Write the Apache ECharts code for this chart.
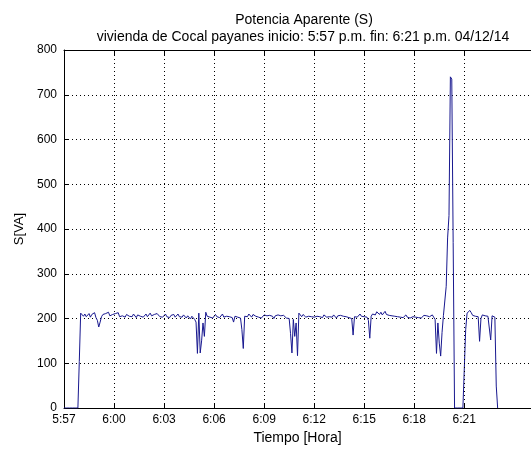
<!DOCTYPE html>
<html>
<head>
<meta charset="utf-8">
<script src="https://cdn.jsdelivr.net/npm/echarts@6/dist/echarts.min.js"></script>
<style>
  html, body { margin: 0; padding: 0; background: #fff; }
  #chart { width: 531px; height: 450px; }
</style>
</head>
<body>
<div id="chart"></div>
<script>
// Apparent power readings, one sample every 5 s starting 17:57:00
const sampleStepSec = 5;
const startClockMin = 17 * 60 + 57;
const apparentPowerVA = [
  0, 0, 0, 0, 0, 0, 0, 0, 0, 0, 0, 104,
  212, 208, 205, 210, 204, 207, 211, 203, 209, 206, 213, 202,
  196, 181, 192, 204, 209, 205, 211, 207, 214, 206, 203, 209,
  205, 211, 207, 213, 204, 208, 206, 210, 203, 209, 212, 205,
  207, 204, 210, 206, 202, 208, 211, 205, 209, 203, 207, 210,
  204, 208, 212, 206, 203, 209, 205, 211, 207, 204, 208, 203,
  206, 210, 204, 208, 202, 207, 205, 209, 203, 206, 210, 204,
  207, 203, 208, 205, 201, 206, 204, 199, 205, 202, 198, 192,
  122, 212, 123, 150, 190, 160, 214, 205, 208, 203, 206, 201,
  205, 209, 204, 207, 202, 206, 210, 203, 207, 205, 209, 204,
  206, 202, 192, 205, 208, 203, 207, 201, 175, 133, 205, 208,
  204, 210, 206, 203, 209, 212, 205, 208, 203, 207, 201, 205,
  208, 204, 206, 202, 207, 203, 205, 200, 206, 203, 208, 204,
  206, 203, 207, 204, 201, 205, 200, 166, 123, 198, 160, 190,
  117, 212, 208, 204, 209, 206, 203, 207, 205, 208, 204, 206,
  203, 207, 205, 209, 204, 206, 202, 208, 205, 203, 207, 204,
  206, 203, 208, 205, 201, 206, 204, 207, 203, 205, 209, 204,
  206, 202, 205, 200, 163, 204, 208, 203, 206, 210, 205, 208,
  204, 207, 203, 196, 156, 205, 210, 213, 208, 215, 211, 209,
  214, 208, 212, 216, 209, 213, 207, 211, 206, 210, 205, 208,
  204, 207, 203, 206, 202, 205, 208, 203, 206, 201, 205, 204,
  207, 203, 206, 202, 205, 201, 204, 207, 203, 206, 209, 204,
  205, 208, 203, 198, 122, 190, 145, 116, 169, 207, 205, 272,
  380, 430, 740, 735, 370, 0, 0, 0, 0, 0, 0, 0,
  0, 175, 212, 209, 218, 213, 207, 211, 205, 209, 204, 149,
  200, 208, 212, 206, 210, 205, 209, 152, 206, 208, 203, 49,
  0
];

// Labelled time ticks, minutes after 17:57
const timeTickMinutes = [0, 3, 6, 9, 12, 15, 18, 21, 24];
const xAxisMaxMin = 28;
const yTicks = [0, 100, 200, 300, 400, 500, 600, 700, 800];

const seriesData = apparentPowerVA.map((v, i) => [i * sampleStepSec / 60, v]);

function clockLabel(m) {
  const total = Math.round(startClockMin + m);
  let h = Math.floor(total / 60) % 12;
  if (h === 0) h = 12;
  const mm = total % 60;
  return h + ':' + (mm < 10 ? '0' + mm : mm);
}

const font = 'Liberation Sans, Arial, sans-serif';
const dotted = { color: '#000', width: 1, type: [1, 3] };

const chart = echarts.init(document.getElementById('chart'), null, { renderer: 'canvas' });
chart.setOption({
  animation: false,
  backgroundColor: '#fff',
  title: [
    {
      text: 'Potencia Aparente (S)',
      left: 299, top: 8, textAlign: 'center',
      textStyle: { fontFamily: font, fontSize: 14, fontWeight: 'normal', color: '#000' }
    },
    {
      text: 'vivienda de Cocal payanes inicio: 5:57 p.m. fin: 6:21 p.m. 04/12/14',
      left: 298, top: 25, textAlign: 'center',
      textStyle: { fontFamily: font, fontSize: 14, fontWeight: 'normal', color: '#000' }
    }
  ],
  grid: { left: 64, top: 50, width: xAxisMaxMin * 16.93, height: 362, containLabel: false },
  xAxis: [
    {
      type: 'value', min: 0, max: xAxisMaxMin, interval: 3, position: 'bottom',
      name: 'Tiempo [Hora]', nameLocation: 'middle', nameGap: 23,
      nameTextStyle: { fontFamily: font, fontSize: 14, color: '#000' },
      axisLine: { show: true, onZero: false, lineStyle: { color: '#000', width: 1 } },
      axisTick: { show: true, inside: true, length: 5, customValues: timeTickMinutes, lineStyle: { color: '#000' } },
      axisLabel: {
        show: true, customValues: timeTickMinutes, margin: 6,
        fontFamily: font, fontSize: 12, color: '#000',
        formatter: v => clockLabel(v)
      },
      splitLine: { show: false }
    },
    {
      type: 'value', min: 0, max: xAxisMaxMin, interval: 3, position: 'top',
      axisLine: { show: true, onZero: false, lineStyle: { color: '#000', width: 1 } },
      axisTick: { show: true, inside: true, length: 5, customValues: timeTickMinutes, lineStyle: { color: '#000' } },
      axisLabel: { show: false },
      splitLine: { show: false }
    }
  ],
  yAxis: {
    type: 'value', min: 0, max: 800, interval: 100,
    name: 'S[VA]', nameLocation: 'middle', nameGap: 24, nameRotate: 90,
    nameTextStyle: { fontFamily: font, fontSize: 13, color: '#000' },
    axisLine: { show: true, lineStyle: { color: '#000', width: 1 } },
    axisTick: { show: true, inside: true, length: 5, lineStyle: { color: '#000' } },
    axisLabel: {
      show: true, margin: 7, fontFamily: font, fontSize: 12, color: '#000',
      customValues: yTicks
    },
    splitLine: { show: true, lineStyle: dotted }
  },
  series: [
    {
      type: 'line',
      xAxisIndex: 0,
      data: seriesData,
      showSymbol: false,
      symbol: 'none',
      lineStyle: { color: '#18188f', width: 1 },
      clip: true,
      markLine: {
        silent: true,
        symbol: 'none',
        label: { show: false },
        lineStyle: dotted,
        data: timeTickMinutes.slice(1).map(m => ({ xAxis: m }))
      },
      z: 3
    }
  ]
});
</script>
</body>
</html>
